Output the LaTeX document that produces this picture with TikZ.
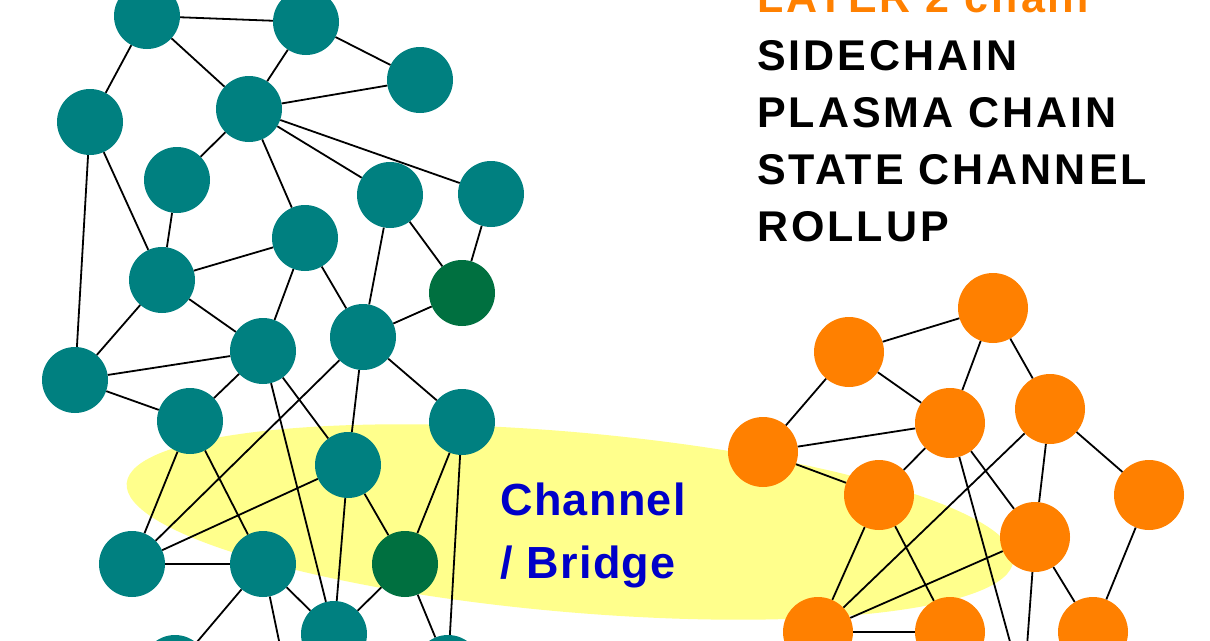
\documentclass[tikz,border=0pt]{standalone}
\usepackage{fontspec}
\setmainfont{Liberation Sans}
\newfontfamily\spaced[LetterSpace=7]{Liberation Sans}
\newfontfamily\spacedb[LetterSpace=3]{Liberation Sans}
\begin{document}
\begin{tikzpicture}[x=1pt,y=-1pt,
  tn/.style={circle,fill=teal0,minimum size=66pt,inner sep=0pt},
  gn/.style={circle,fill=green0,minimum size=66pt,inner sep=0pt},
  on/.style={circle,fill=orange0,minimum size=70pt,inner sep=0pt},
  ed/.style={line width=1.8pt,black},
  lab/.style={font=\spaced\fontsize{43}{50}\selectfont\bfseries,anchor=base west,inner sep=0pt},
  blab/.style={font=\spacedb\fontsize{45}{50}\selectfont\bfseries,anchor=base west,inner sep=0pt,text=blue0}]
\definecolor{teal0}{RGB}{0,128,128}
\definecolor{green0}{RGB}{0,112,64}
\definecolor{orange0}{RGB}{255,128,0}
\definecolor{yell}{RGB}{255,255,140}
\definecolor{blue0}{RGB}{0,0,200}
\useasboundingbox (0,0) rectangle (1210,640);
\clip (0,0) rectangle (1210,640);
\fill[yell] (570,522) ellipse[x radius=445,y radius=90,rotate=-5];
% teal nodes
\node[tn] (A) at (147,16) {};
\node[tn] (B) at (306,22) {};
\node[tn] (C) at (420,80) {};
\node[tn] (D) at (90,122) {};
\node[tn] (E) at (249,109) {};
\node[tn] (F) at (177,180) {};
\node[tn] (G) at (390,195) {};
\node[tn] (H) at (491,194) {};
\node[tn] (I) at (305,238) {};
\node[tn] (J) at (162,280) {};
\node[gn] (K) at (462,293) {};
\node[tn] (L) at (263,351) {};
\node[tn] (M) at (363,337) {};
\node[tn] (N) at (75,380) {};
\node[tn] (O) at (190,421) {};
\node[tn] (P) at (462,422) {};
\node[tn] (Q) at (348,465) {};
\node[tn] (R) at (132,564) {};
\node[tn] (S) at (263,564) {};
\node[gn] (T) at (405,564) {};
\node[tn] (U) at (334,634) {};
\node[tn] (V) at (175,668) {};
\node[tn] (W) at (448,668) {};
\coordinate (Sd) at (283,660);
% orange nodes
\node[on] (o1) at (993,308) {};
\node[on] (o2) at (849,352) {};
\node[on] (o3) at (763,452) {};
\node[on] (o4) at (950,423) {};
\node[on] (o5) at (1050,409) {};
\node[on] (o6) at (879,495) {};
\node[on] (o7) at (1035,537) {};
\node[on] (o8) at (1149,495) {};
\node[on] (o9) at (818,632) {};
\node[on] (o10) at (950,632) {};
\node[on] (o11) at (1093,632) {};
\coordinate (o4d) at (1015,660);
\coordinate (o7d) at (1026,660);
% edges
\draw[ed] (A)--(B) (A)--(E) (A)--(D) (B)--(E) (B)--(C) (E)--(C) (E)--(F)
 (E)--(H) (E)--(G) (E)--(I) (D)--(J) (D)--(N) (F)--(J) (J)--(I) (J)--(L)
 (J)--(N) (N)--(L) (N)--(O) (G)--(M) (G)--(K) (H)--(K) (I)--(L) (I)--(M)
 (M)--(K) (L)--(O) (L)--(Q) (M)--(R) (R)--(O) (R)--(Q) (R)--(S) (L)--(U)
 (M)--(Q) (M)--(P) (P)--(T) (P)--(W) (Q)--(T) (Q)--(U) (O)--(S) (S)--(U)
 (S)--(V) (S)--(Sd) (T)--(U) (T)--(W);
\draw[ed] (o2)--(o1) (o2)--(o3) (o2)--(o4) (o1)--(o4) (o1)--(o5) (o3)--(o4)
 (o3)--(o6) (o4)--(o6) (o4)--(o7) (o4)--(o4d) (o5)--(o9) (o5)--(o7) (o5)--(o8)
 (o6)--(o9) (o6)--(o10) (o7)--(o9) (o7)--(o11) (o7)--(o7d) (o8)--(o11) (o9)--(o10);
% texts
\node[lab,text=orange0] (t0) at (757,12) {LAYER 2 chain};
\node[lab] (t1) at (757,70) {SIDECHAIN};
\node[lab] (t2) at (757,127) {PLASMA CHAIN};
\node[lab] (t3) at (757,184) {STATE CHANNEL};
\node[lab] (t4) at (757,241) {ROLLUP};
\node[blab] (c1) at (500,515) {Channel};
\node[blab] (c2) at (500,578) {/ Bridge};
\end{tikzpicture}
\end{document}
